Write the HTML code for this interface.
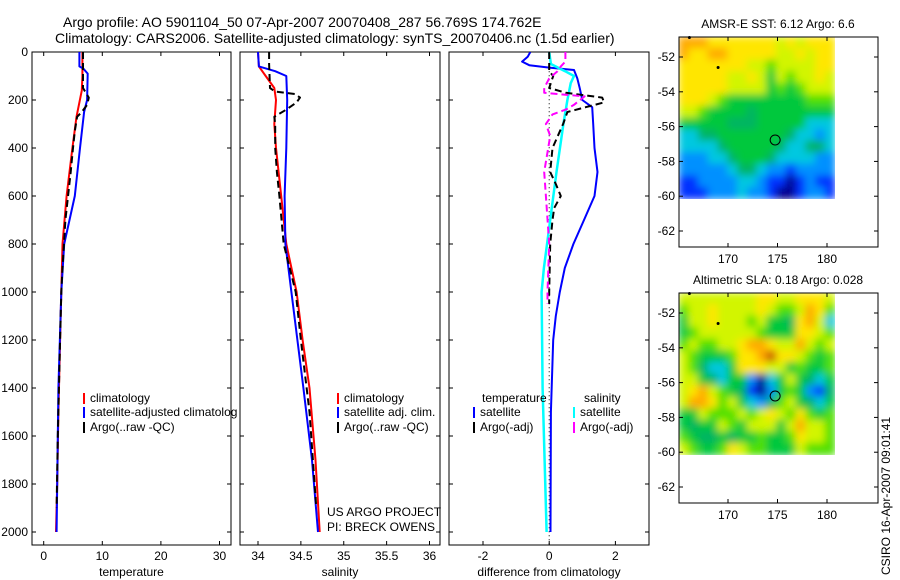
<!DOCTYPE html>
<html><head><meta charset="utf-8">
<style>
html,body{margin:0;padding:0;background:#fff;}
svg{display:block;font-family:"Liberation Sans",sans-serif;}
text{fill:#000;}
</style></head>
<body>
<svg id="fig" width="900" height="580" viewBox="0 0 900 580" xmlns="http://www.w3.org/2000/svg">
<defs>
<filter id="blur" x="-10%" y="-10%" width="120%" height="120%"><feGaussianBlur stdDeviation="4"/></filter>
<clipPath id="c1"><rect x="32" y="52" width="199" height="493"/></clipPath>
<clipPath id="c1l"><rect x="32" y="52" width="205" height="493"/></clipPath>
<clipPath id="c2"><rect x="240" y="52" width="200" height="493"/></clipPath>
<clipPath id="c3"><rect x="449" y="52" width="200" height="493"/></clipPath>
<clipPath id="cm1"><rect x="679" y="37" width="156" height="162"/></clipPath>
<clipPath id="cm2"><rect x="679" y="293" width="156" height="162"/></clipPath>
</defs>
<text x="63" y="27" font-size="14">Argo profile: AO 5901104_50 07-Apr-2007 20070408_287 56.769S 174.762E</text>
<text x="55" y="43" font-size="14">Climatology: CARS2006. Satellite-adjusted climatology: synTS_20070406.nc (1.5d earlier)</text>
<g id="root"></g>
<text transform="translate(890,575) rotate(-90)" font-size="12">CSIRO 16-Apr-2007 09:01:41</text>
</svg>
<script>
// ---------- data ----------
const depthTicks = [0,200,400,600,800,1000,1200,1400,1600,1800,2000];
const tempTicks = [0,10,20,30];
const salTicks = [34,34.5,35,35.5,36];
const salTickLabels = ["34","34.5","35","35.5","36"];
const diffTicks = [-2,0,2];
const tClimDepth = [0,100,160,270,400,600,800,1000,1200,1500,1800,2000];
const tClimVal   = [6.6,6.6,6.5,5.6,4.9,3.9,3.2,3.0,2.8,2.5,2.3,2.1];
const tSatDepth  = [0,60,70,90,200,250,400,600,800,1000,1400,2000];
const tSatVal    = [6.1,6.1,6.8,7.5,7.4,6.9,6.2,5.3,3.5,3.0,2.5,2.2];
const tArgoDepth = [0,150,170,190,220,250,270,330,400,500,700,900,1000,1300,1600,1900];
const tArgoVal   = [6.7,6.7,7.2,7.7,7.4,6.5,5.7,5.3,5.0,4.6,3.7,3.2,3.0,2.7,2.4,2.2];
const sClimDepth = [0,60,100,150,200,300,400,600,800,1000,1200,1400,1700,2000];
const sClimVal   = [34.0,34.01,34.09,34.19,34.21,34.19,34.21,34.27,34.33,34.45,34.52,34.6,34.67,34.72];
const sSatDepth  = [0,60,80,100,200,400,600,800,1000,1200,1400,1700,2000];
const sSatVal    = [34.0,34.01,34.2,34.33,34.34,34.33,34.31,34.32,34.39,34.46,34.53,34.63,34.70];
const sArgoDepth = [0,50,150,165,175,190,210,240,270,300,400,500,600,800,1000,1200,1500,1900];
const sArgoVal   = [34.13,34.13,34.14,34.2,34.43,34.49,34.45,34.33,34.19,34.2,34.2,34.22,34.25,34.3,34.44,34.5,34.6,34.68];
const dTSatDepth = [0,20,40,55,65,75,110,150,200,230,300,400,500,600,700,800,900,1000,1100,1200,1500,2000];
const dTSatVal   = [-0.57,-0.65,-0.82,-0.6,0,0.75,0.85,0.92,1.0,1.3,1.33,1.37,1.46,1.37,1.05,0.73,0.47,0.32,0.2,0.12,0.05,0.04];
const dSSatDepth = [0,50,80,100,130,200,300,500,700,900,1000,1400,2000];
const dSSatVal   = [0,0.05,0.48,0.75,0.65,0.55,0.43,0.22,0.03,-0.16,-0.23,-0.2,-0.08];
const dTArgoDepth= [0,80,100,150,170,190,210,230,250,300,400,500,550,600,650,700,800,1000,1050];
const dTArgoVal  = [0,0,0.12,0,0.5,1.6,1.66,1.1,0.55,0.42,0.1,0.03,0.2,0.35,0.15,0.1,0.03,0,0];
const dSArgoDepth= [0,40,60,80,110,150,170,185,220,240,260,300,350,500,600,800,1000,1050];
const dSArgoVal  = [0.49,0.49,0.35,0.25,0,-0.15,-0.15,1.07,0.75,0.5,0.1,-0.1,0.03,-0.15,-0.1,0,-0.05,-0.05];
const latTicks = [52,54,56,58,60,62];
const lonTicks = [170,175,180];
const sstGrid = [
"9998888888787888","9889988888778788","8888888776777788","8888877875767787",
"8888877775656777","8887655555555666","7765555455555555","5555544455555333",
"3344555555543323","3333455555433443","2223345554333322","2222234432212222",
"1122223321101211","1112223221001221"];
const slaGrid = [
"7777777788778887","6778777787667986","5778777675548973","5677777765558876",
"6766778998779767","765556889:887656","7643358887756556","7754355203575435",
"7897654102565214","7998675324675435","5576667678768656","5455765777579776",
"6544545565568776","7655687665557666"];
const sstTitle = "AMSR-E SST: 6.12 Argo: 6.6";
const slaTitle = "Altimetric SLA: 0.18 Argo: 0.028";
const argoLon = 174.762, argoLat = 56.769;
const palette = ["#00008f","#0030ff","#0090ff","#00c8e0","#00b464","#00c83c","#50e000","#d2f500","#ffe600","#ffaa00","#c85000"];

// ---------- helpers ----------
const NS = "http://www.w3.org/2000/svg";
const root = document.getElementById('root');
function mk(tag, attrs, parent){ const e=document.createElementNS(NS,tag); for(const k in attrs) e.setAttribute(k,attrs[k]); (parent||root).appendChild(e); return e; }
const yD = d => 52 + d*0.24;
const panels = [
 {x0:32,x1:231,sx:v=>43.7+v*5.86,ticks:tempTicks,labels:tempTicks.map(String),name:"temperature",clip:"c1"},
 {x0:240,x1:440,sx:v=>258+(v-34)*85.75,ticks:salTicks,labels:salTickLabels,name:"salinity",clip:"c2"},
 {x0:449,x1:649,sx:v=>549.2+v*33.1,ticks:diffTicks,labels:diffTicks.map(String),name:"difference from climatology",clip:"c3"}
];
panels.forEach((p,i)=>{
 const g=mk('g',{});
 
 
 const r=mk('rect',{x:p.x0,y:52,width:p.x1-p.x0,height:493,fill:'none',stroke:'#000','stroke-width':1},g);
 
 
 depthTicks.forEach(d=>{
  const y=yD(d);
  mk('line',{x1:p.x0,x2:p.x0+4,y1:y,y2:y,stroke:'#000'},g);
  mk('line',{x1:p.x1,x2:p.x1-4,y1:y,y2:y,stroke:'#000'},g);
  if(i===0){ const t=mk('text',{x:p.x0-4,y:y+4,'font-size':12,'text-anchor':'end'},g); t.textContent=d;
   
    }
 });
 p.ticks.forEach((v,k)=>{
  const x=p.sx(v);
  mk('line',{x1:x,x2:x,y1:52,y2:56,stroke:'#000'},g);
  mk('line',{x1:x,x2:x,y1:545,y2:541,stroke:'#000'},g);
  const t=mk('text',{x:x,y:560,'font-size':12,'text-anchor':'middle'},g); t.textContent=p.labels[k];
  
  
 });
 const xl=mk('text',{x:(p.x0+p.x1)/2,y:576,'font-size':12,'text-anchor':'middle'},g); xl.textContent=p.name;
 
 
});
function series(p, depths, vals, color, dash, w, name){
 const pts=depths.map((d,k)=>p.sx(vals[k]).toFixed(1)+','+yD(d).toFixed(1)).join(' ');
 const l=mk('polyline',{points:pts,fill:'none',stroke:color,'stroke-width':w,'stroke-dasharray':dash||'none','clip-path':'url(#'+p.clip+')','stroke-linejoin':'round'});
 
 
}
const [P1,P2,P3]=panels;
series(P1,tClimDepth,tClimVal,'#f00','',2,'temp-climatology-line');
series(P1,tSatDepth,tSatVal,'#00f','',2,'temp-satellite-line');
series(P1,tArgoDepth,tArgoVal,'#000','7,4',2,'temp-argo-line');
series(P2,sClimDepth,sClimVal,'#f00','',2,'sal-climatology-line');
series(P2,sSatDepth,sSatVal,'#00f','',2,'sal-satellite-line');
series(P2,sArgoDepth,sArgoVal,'#000','7,4',2,'sal-argo-line');
const zl=mk('line',{x1:P3.sx(0),x2:P3.sx(0),y1:yD(80),y2:yD(2060),stroke:'#000','stroke-dasharray':'1,3'});


series(P3,dTSatDepth,dTSatVal,'#00f','',2,'diff-temp-satellite-line');
series(P3,dSSatDepth,dSSatVal,'#0ff','',2.5,'diff-sal-satellite-line');
series(P3,dTArgoDepth,dTArgoVal,'#000','7,4',2,'diff-temp-argo-line');
series(P3,dSArgoDepth,dSArgoVal,'#f0f','7,4',2,'diff-sal-argo-line');

function legend(x,y,color,label,clip){
 const g=mk('g',clip?{'clip-path':'url(#'+clip+')'}:{});
 
 
 mk('rect',{x:x,y:y-9,width:2,height:11,fill:color},g);
 const t=mk('text',{x:x+7,y:y,'font-size':12},g); t.textContent=label;
}
legend(83,402,'#f00','climatology','c1l');
legend(83,416,'#00f','satellite-adjusted climatology','c1l');
legend(83,431,'#000','Argo(..raw -QC)','c1l');
legend(337,402,'#f00','climatology');
legend(337,416,'#00f','satellite adj. clim.');
legend(337,431,'#000','Argo(..raw -QC)');
const lt=mk('text',{x:482,y:402,'font-size':12}); lt.textContent='temperature';


const ls=mk('text',{x:584,y:402,'font-size':12}); ls.textContent='salinity';


legend(473,416,'#00f','satellite');
legend(473,431,'#000','Argo(-adj)');
legend(573,416,'#0ff','satellite');
legend(573,431,'#f0f','Argo(-adj)');
const us=mk('text',{x:327,y:516,'font-size':12}); us.textContent='US ARGO PROJECT';


const pi=mk('text',{x:327,y:531,'font-size':12}); pi.textContent='PI: BRECK OWENS';



// ---------- maps ----------
function drawMap(top, grid, title, clip, name){
 const g=mk('g',{});
 
 
 const lx=lon=>679+(lon-165.05)*9.9;
 const ly=lat=>top+(lat-50.85)*17.4;
 const rows=grid.length, cols=grid[0].length;
 const cw=156/cols, ch=162/rows;
 const ig=mk('g',{'clip-path':'url(#'+clip+')'},g);
 const bg=mk('g',{filter:'url(#blur)'},ig);
 grid.forEach((row,r)=>{
  for(let c=0;c<cols;c++){
   const v=row.charCodeAt(c)-48;
   const cell=mk('rect',{x:679+c*cw-0.5,y:top+r*ch-0.5,width:cw+1,height:ch+1,fill:palette[v]},bg);
   
   
  }
 });
 const box=mk('rect',{x:679,y:top,width:199,height:210,fill:'none',stroke:'#000'},g);
 
 
 latTicks.forEach(lat=>{
  const y=ly(lat);
  mk('line',{x1:679,x2:683,y1:y,y2:y,stroke:'#000'},g);
  mk('line',{x1:878,x2:874,y1:y,y2:y,stroke:'#000'},g);
  const t=mk('text',{x:675,y:y+4,'font-size':12,'text-anchor':'end'},g); t.textContent='-'+lat;
  
  
 });
 lonTicks.forEach(lon=>{
  const x=lx(lon);
  mk('line',{x1:x,x2:x,y1:top,y2:top+4,stroke:'#000'},g);
  mk('line',{x1:x,x2:x,y1:top+210,y2:top+206,stroke:'#000'},g);
  const t=mk('text',{x:x,y:top+226,'font-size':12,'text-anchor':'middle'},g); t.textContent=lon;
  
  
 });
 const tt=mk('text',{x:778,y:top-9,'font-size':12,'text-anchor':'middle'},g); tt.textContent=title;
 
 
 mk('circle',{cx:lx(169),cy:ly(52.6),r:1.5,fill:'#000'},g);
 mk('circle',{cx:lx(166.1),cy:ly(50.88),r:1.5,fill:'#000'},g);
 const m=mk('circle',{cx:lx(argoLon),cy:ly(argoLat),r:5,fill:'none',stroke:'#000'},g);
 
 
}
drawMap(37, sstGrid, sstTitle, 'cm1', 'sst-map');
drawMap(293, slaGrid, slaTitle, 'cm2', 'sla-map');
</script>
</body></html>
